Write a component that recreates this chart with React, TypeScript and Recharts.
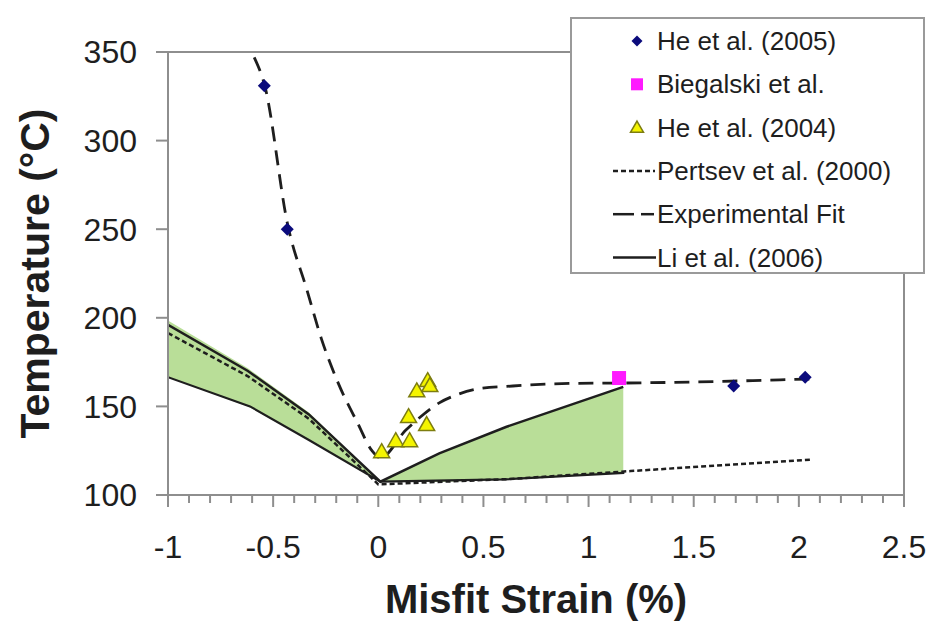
import {
  ComposedChart,
  Area,
  Line,
  Scatter,
  XAxis,
  YAxis,
  ReferenceLine,
} from "recharts"

// misfit strain (%) vs temperature (°C)
const he2005 = [
  { x: -0.542, y: 331 },
  { x: -0.433, y: 250 },
  { x: 1.69, y: 161.5 },
  { x: 2.03, y: 166.5 },
]

const biegalski = [{ x: 1.145, y: 166 }]

const he2004 = [
  { x: 0.016, y: 123.7 },
  { x: 0.083, y: 129.9 },
  { x: 0.149, y: 129.9 },
  { x: 0.144, y: 143.5 },
  { x: 0.23, y: 139 },
  { x: 0.183, y: 158 },
  { x: 0.235, y: 163.8 },
  { x: 0.245, y: 161 },
]

const pertsev = [
  { x: -1, y: 191.4 },
  { x: -0.62, y: 167 },
  { x: -0.33, y: 143 },
  { x: 0, y: 106 },
  { x: 0.62, y: 109 },
  { x: 1.2, y: 113.5 },
  { x: 2.06, y: 120 },
]

const expFit = [
  { x: -0.59, y: 347 },
  { x: -0.54, y: 331 },
  { x: -0.43, y: 252 },
  { x: -0.34, y: 216 },
  { x: -0.27, y: 188 },
  { x: -0.19, y: 163 },
  { x: -0.1, y: 141 },
  { x: -0.03, y: 125 },
  { x: 0.01, y: 121 },
  { x: 0.13, y: 136.5 },
  { x: 0.2, y: 144 },
  { x: 0.29, y: 152 },
  { x: 0.37, y: 156.4 },
  { x: 0.48, y: 160 },
  { x: 0.64, y: 161.5 },
  { x: 0.93, y: 163 },
  { x: 1.17, y: 163.2 },
  { x: 1.6, y: 164 },
  { x: 1.91, y: 165 },
  { x: 2.08, y: 165.5 },
]

const liUpper = [
  { x: -1, y: 196 },
  { x: -0.62, y: 170 },
  { x: -0.33, y: 145.5 },
  { x: 0.01, y: 107.5 },
  { x: 0.29, y: 123.5 },
  { x: 0.61, y: 138.5 },
  { x: 1.165, y: 161 },
]

const liLower = [
  { x: -1, y: 166.5 },
  { x: -0.61, y: 150 },
  { x: -0.33, y: 131 },
  { x: 0.01, y: 107.5 },
  { x: 0.6, y: 108.8 },
  { x: 1.17, y: 112.5 },
]

// shaded band between the Li et al. bounds
const band = [
  { x: -1, range: [166.5, 198.5] },
  { x: -0.62, range: [150, 171.5] },
  { x: -0.33, range: [131, 146.5] },
  { x: 0.01, range: [107.5, 107.5] },
  { x: 0.29, range: [107.3, 123.5] },
  { x: 0.61, range: [108.8, 138.5] },
  { x: 1.165, range: [112.5, 161] },
]

const xMajor = [-1, -0.5, 0, 0.5, 1, 1.5, 2, 2.5]
const xTicks = xMajor.flatMap((t, i) =>
  i === xMajor.length - 1 ? [t] : [t, t + 0.1, t + 0.2, t + 0.3, t + 0.4]
)
const yTicks = [100, 150, 200, 250, 300, 350]

const FONT = '"Liberation Sans", Arial, Helvetica, sans-serif'
const AXIS = "#8e8e8e"
const INK = "#1e1e1e"

function XTick(props: any) {
  const { x, y, payload } = props
  const v = Math.round(payload.value * 10) / 10
  const major = xMajor.includes(v)
  return (
    <g>
      <line x1={x} x2={x} y1={y} y2={y + (major ? 12 : 8)} stroke={AXIS} strokeWidth={2} />
      {major && (
        <text x={x} y={y + 63} textAnchor="middle" fontSize={32} fill={INK} fontFamily={FONT}>
          {String(v)}
        </text>
      )}
    </g>
  )
}

const Diamond = ({ cx, cy, r = 6.5 }: any) => (
  <polygon
    points={`${cx},${cy - r} ${cx + r},${cy} ${cx},${cy + r} ${cx - r},${cy}`}
    fill="#0b0b7c"
  />
)

const Square = ({ cx, cy, s = 14 }: any) => (
  <rect x={cx - s / 2} y={cy - s / 2} width={s} height={s} fill="#ff19ff" />
)

const Triangle = ({ cx, cy, s = 16 }: any) => {
  const h = s * 0.87
  return (
    <polygon
      points={`${cx},${cy - (h * 2) / 3} ${cx + s / 2},${cy + h / 3} ${cx - s / 2},${cy + h / 3}`}
      fill="#f4f400"
      stroke="#7d7d10"
      strokeWidth={1.5}
    />
  )
}

const legendRows = [
  { name: "He et al. (2005)", kind: "diamond" },
  { name: "Biegalski et al.", kind: "square" },
  { name: "He et al. (2004)", kind: "triangle" },
  { name: "Pertsev et al. (2000)", kind: "dotted" },
  { name: "Experimental Fit", kind: "dashed" },
  { name: "Li et al. (2006)", kind: "solid" },
]

function LegendBox() {
  return (
    <div
      style={{
        position: "absolute",
        left: 570,
        top: 17,
        width: 355,
        height: 257,
        border: "2px solid #9a9a9a",
        background: "#fff",
        boxSizing: "border-box",
      }}
    >
      <svg width={355} height={257} style={{ position: "absolute", left: -2, top: -2 }}>
        {legendRows.map((r, i) => {
          const cy = 24 + i * 43.3
          let icon = null
          if (r.kind === "diamond") icon = <Diamond cx={67} cy={cy} r={5.5} />
          if (r.kind === "square") icon = <Square cx={67} cy={cy} s={12} />
          if (r.kind === "triangle") icon = <Triangle cx={67} cy={cy + 1} s={13} />
          if (r.kind === "dotted")
            icon = <line x1={43} x2={85} y1={cy} y2={cy} stroke={INK} strokeWidth={2.5} strokeDasharray="5 3" />
          if (r.kind === "dashed")
            icon = (
              <g>
                <line x1={43} x2={64} y1={cy} y2={cy} stroke={INK} strokeWidth={2.5} />
                <line x1={71} x2={84} y1={cy} y2={cy} stroke={INK} strokeWidth={2.5} />
              </g>
            )
          if (r.kind === "solid")
            icon = <line x1={43} x2={86} y1={cy} y2={cy} stroke={INK} strokeWidth={2.5} />
          return (
            <g key={r.name}>
              {icon}
              <text x={87} y={cy} dominantBaseline="central" fontSize={26} fill={INK} fontFamily={FONT}>
                {r.name}
              </text>
            </g>
          )
        })}
      </svg>
    </div>
  )
}

export default function App() {
  return (
    <div style={{ position: "absolute", left: 0, top: 0, width: 928, height: 624, background: "#fff" }}>
      <ComposedChart
        width={928}
        height={624}
        margin={{ top: 52, right: 24, bottom: 0, left: 0 }}
      >
        <XAxis
          type="number"
          dataKey="x"
          domain={[-1, 2.5]}
          ticks={xTicks}
          interval={0}
          allowDataOverflow
          height={129}
          stroke={AXIS}
          strokeWidth={2}
          tickSize={0}
          tickMargin={0}
          tickLine={false}
          tick={<XTick />}
          label={{
            content: ({ viewBox }: any) => {
              const vb = viewBox || { x: 168, y: 495, width: 736 }
              return (
                <text
                  x={vb.x + vb.width / 2}
                  y={vb.y + 118}
                  textAnchor="middle"
                  fontSize={40}
                  fontWeight="bold"
                  fill={INK}
                  fontFamily={FONT}
                >
                  Misfit Strain (%)
                </text>
              )
            },
          }}
        />
        <YAxis
          type="number"
          domain={[100, 350]}
          ticks={yTicks}
          allowDataOverflow
          width={168}
          stroke={AXIS}
          strokeWidth={2}
          tickSize={12}
          tickMargin={19}
          tick={{ fontSize: 32, fill: INK, fontFamily: FONT }}
          label={{
            content: ({ viewBox }: any) => {
              const vb = viewBox || { y: 52, height: 443 }
              const cy = vb.y + vb.height / 2
              return (
                <text
                  transform={`translate(35, ${cy}) rotate(-90)`}
                  textAnchor="middle"
                  dominantBaseline="central"
                  fontSize={41}
                  fontWeight="bold"
                  fill={INK}
                  fontFamily={FONT}
                >
                  Temperature (°C)
                </text>
              )
            },
          }}
        />
        <ReferenceLine y={350} stroke={AXIS} strokeWidth={2} />
        <ReferenceLine x={2.5} stroke={AXIS} strokeWidth={2} />

        <Area
          data={band}
          dataKey="range"
          type="linear"
          stroke="none"
          fill="#b9de98"
          fillOpacity={1}
          isAnimationActive={false}
        />
        <Line
          data={pertsev}
          dataKey="y"
          type="linear"
          dot={false}
          stroke={INK}
          strokeWidth={2.5}
          strokeDasharray="5 3"
          isAnimationActive={false}
        />
        <Line
          data={liLower}
          dataKey="y"
          type="linear"
          dot={false}
          stroke={INK}
          strokeWidth={2.2}
          isAnimationActive={false}
        />
        <Line
          data={liUpper}
          dataKey="y"
          type="linear"
          dot={false}
          stroke={INK}
          strokeWidth={2.5}
          isAnimationActive={false}
        />
        <Line
          data={expFit}
          dataKey="y"
          type="monotone"
          dot={false}
          stroke={INK}
          strokeWidth={2.8}
          strokeDasharray="15 9"
          isAnimationActive={false}
        />
        <Scatter data={he2004} dataKey="y" shape={<Triangle />} isAnimationActive={false} />
        <Scatter data={biegalski} dataKey="y" shape={<Square />} isAnimationActive={false} />
        <Scatter data={he2005} dataKey="y" shape={<Diamond />} isAnimationActive={false} />
      </ComposedChart>
      <LegendBox />
    </div>
  )
}
